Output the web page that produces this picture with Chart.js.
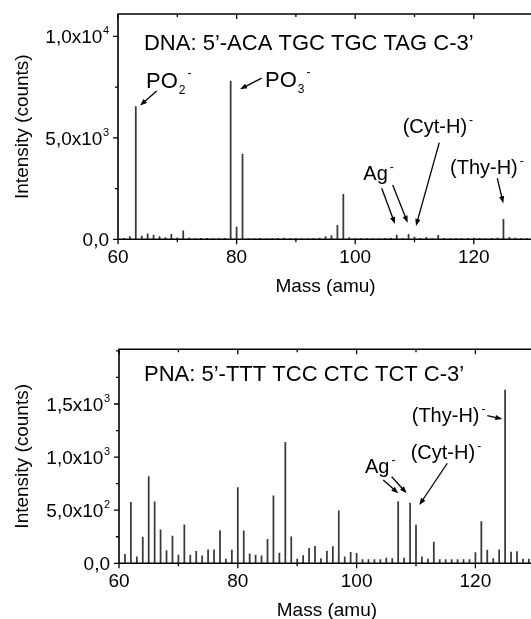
<!DOCTYPE html>
<html>
<head>
<meta charset="utf-8">
<title>DNA / PNA mass spectra</title>
<script src="https://cdn.jsdelivr.net/npm/chart.js@4.4.0/dist/chart.umd.min.js"></script>
<style>
  html, body { margin: 0; padding: 0; background: #fff; }
  body { width: 531px; height: 619px; overflow: hidden; position: relative; }
  canvas { position: absolute; left: 0; }
  #dnaChart { top: 0; }
  #pnaChart { top: 310px; }
</style>
</head>
<body>
<canvas id="dnaChart" width="560" height="310"></canvas>
<canvas id="pnaChart" width="560" height="324"></canvas>
<script>
const FONT = '"Liberation Sans", Arial, Helvetica, sans-serif';

// --- datos ---
const xTickValues = [60, 80, 100, 120];

const massValues = [
  61, 62, 63, 64, 65, 66, 67, 68, 69, 70,
  71, 72, 73, 74, 75, 76, 77, 78, 79, 80,
  81, 82, 83, 84, 85, 86, 87, 88, 89, 90,
  91, 92, 93, 94, 95, 96, 97, 98, 99, 100,
  101, 102, 103, 104, 105, 106, 107, 108, 109, 110,
  111, 112, 113, 114, 115, 116, 117, 118, 119, 120,
  121, 122, 123, 124, 125, 126, 127, 128, 129, 130
];

const dnaCounts = [
  50, 140, 6540, 160, 270, 210, 140, 80, 250, 70,
  420, 60, 50, 50, 50, 40, 50, 50, 7800, 600,
  4200, 40, 40, 50, 40, 40, 50, 60, 40, 50,
  40, 40, 50, 60, 130, 180, 690, 2220, 80, 50,
  40, 40, 50, 40, 50, 60, 210, 50, 245, 110,
  50, 100, 40, 200, 50, 40, 50, 40, 50, 60,
  50, 40, 50, 60, 990, 100, 60, 40, 40, 40
];

const pnaCounts = [
  85, 575, 62, 248, 817, 578, 314, 119, 257, 78,
  362, 78, 112, 70, 128, 126, 307, 40, 125, 713,
  305, 90, 78, 70, 226, 635, 97, 1140, 250, 40,
  72, 141, 160, 45, 115, 157, 493, 62, 104, 94,
  34, 34, 34, 34, 50, 45, 580, 50, 567, 361,
  60, 40, 200, 35, 35, 35, 35, 35, 35, 102,
  394, 125, 45, 128, 1630, 106, 110, 40, 40, 40
];

const dnaYTicks = [0, 5000, 10000];
const dnaYLabels = [['0,0', ''], ['5,0x10', '3'], ['1,0x10', '4']];
const pnaYTicks = [0, 500, 1000, 1500];
const pnaYLabels = [['0,0', ''], ['5,0x10', '2'], ['1,0x10', '3'], ['1,5x10', '3']];

// anotaciones (coordenadas en unidades de datos)
const dnaNotes = [
  { text: 'DNA: 5\u2019-ACA TGC TGC TAG C-3\u2019', at: [64.38, 9347], size: 22 },
  { text: 'PO', sub: '2', sup: '-', at: [64.72, 7444], size: 22, arrow: [[66.53, 7311], [63.71, 6586]] },
  { text: 'PO', sub: '3', sup: '-', at: [84.79, 7523], size: 22, arrow: [[84.23, 7937], [80.57, 7395]] },
  { text: '(Cyt-H)', sup: '-', at: [108.0, 5216], size: 20, arrow: [[114.18, 4762], [110.25, 656]] },
  { text: 'Ag', sup: '-', at: [101.37, 2923], size: 20, arrow: [[104.47, 2514], [106.71, 754]] },
  { arrow: [[106.32, 2677], [108.85, 818]] },
  { text: '(Thy-H)', sup: '-', at: [115.99, 3219], size: 20, arrow: [[123.96, 3007], [124.97, 1775]] }
];

const pnaNotes = [
  { text: 'PNA: 5\u2019-TTT TCC CTC TCT C-3\u2019', at: [64.21, 1721], size: 22 },
  { text: '(Thy-H)', sup: '-', at: [109.28, 1328], size: 20, arrow: [[122.0, 1390], [124.53, 1359]] },
  { text: '(Cyt-H)', sup: '-', at: [109.11, 982], size: 20, arrow: [[115.27, 942], [110.56, 549]] },
  { text: 'Ag', sup: '-', at: [101.41, 847], size: 20, arrow: [[104.49, 784], [107.02, 659]] },
  { arrow: [[105.91, 815], [108.43, 659]] }
];

// --- dibujo ---
function drawArrow(ctx, x1, y1, x2, y2) {
  const ang = Math.atan2(y2 - y1, x2 - x1);
  const L = 7, W = 2.6;
  const c = Math.cos(ang), s = Math.sin(ang);
  ctx.lineWidth = 1.3;
  ctx.beginPath();
  ctx.moveTo(x1, y1);
  ctx.lineTo(x2 - c * L * 0.6, y2 - s * L * 0.6);
  ctx.stroke();
  ctx.beginPath();
  ctx.moveTo(x2, y2);
  ctx.lineTo(x2 - L * c + W * s, y2 - L * s - W * c);
  ctx.lineTo(x2 - L * c - W * s, y2 - L * s + W * c);
  ctx.closePath();
  ctx.fill();
}

function drawNote(ctx, x, y, note) {
  if (note.text) {
    const px = x.getPixelForValue(note.at[0]);
    const py = y.getPixelForValue(note.at[1]);
    ctx.textAlign = 'left';
    ctx.textBaseline = 'alphabetic';
    ctx.font = note.size + 'px ' + FONT;
    ctx.fillText(note.text, px, py);
    let end = px + ctx.measureText(note.text).width;
    const cap = note.size * 0.716;
    ctx.font = '12px ' + FONT;
    if (note.sub) {
      ctx.fillText(note.sub, end + 1, py + 6);
      end += 1 + ctx.measureText(note.sub).width;
    }
    if (note.sup) {
      ctx.fillText(note.sup, end + 2, py - cap + 5);
    }
  }
  if (note.arrow) {
    const [[a0, b0], [a1, b1]] = note.arrow;
    drawArrow(ctx, x.getPixelForValue(a0), y.getPixelForValue(b0),
                   x.getPixelForValue(a1), y.getPixelForValue(b1));
  }
}

const framePlugin = {
  id: 'frame',
  afterDatasetsDraw(chart, args, opts) {
    const { ctx, chartArea: a, scales: { x, y } } = chart;
    ctx.save();
    ctx.strokeStyle = '#000';
    ctx.fillStyle = '#000';
    ctx.lineCap = 'butt';

    // marco
    ctx.lineWidth = 1.6;
    ctx.beginPath();
    ctx.moveTo(a.right + 40, a.top);
    ctx.lineTo(a.left, a.top);
    ctx.lineTo(a.left, a.bottom);
    ctx.lineTo(a.right + 40, a.bottom);
    ctx.stroke();

    // marcas eje x (abajo hacia fuera, arriba hacia dentro)
    ctx.lineWidth = 1.3;
    ctx.beginPath();
    for (let v = x.min; v <= x.max; v += 10) {
      const px = x.getPixelForValue(v);
      const len = xTickValues.includes(v) ? 5 : 3;
      ctx.moveTo(px, a.bottom);
      ctx.lineTo(px, a.bottom + len);
      ctx.moveTo(px, a.top);
      ctx.lineTo(px, a.top + len);
    }
    // marcas eje y
    const step = opts.yTicks[1] - opts.yTicks[0];
    for (let v = 0; v <= y.max; v += step / 2) {
      const py = y.getPixelForValue(v);
      const len = opts.yTicks.includes(v) ? 5 : 3;
      ctx.moveTo(a.left, py);
      ctx.lineTo(a.left - len, py);
    }
    ctx.stroke();

    // etiquetas eje y con exponente
    ctx.textBaseline = 'alphabetic';
    ctx.textAlign = 'left';
    opts.yTicks.forEach((v, i) => {
      const [main, exp] = opts.yLabels[i];
      const py = y.getPixelForValue(v);
      ctx.font = '19px ' + FONT;
      const wMain = ctx.measureText(main).width;
      ctx.font = '11px ' + FONT;
      const wExp = exp ? ctx.measureText(exp).width + 0.5 : 0;
      const left = a.left - 9 - wMain - wExp;
      ctx.font = '19px ' + FONT;
      ctx.fillText(main, left, py + 6.8);
      if (exp) {
        ctx.font = '11px ' + FONT;
        ctx.fillText(exp, left + wMain + 0.5, py - 2);
      }
    });

    // anotaciones
    ctx.fillStyle = '#000';
    opts.notes.forEach(n => drawNote(ctx, x, y, n));
    ctx.restore();
  }
};

function makeChart(id, counts, yMax, yTicks, yLabels, notes, pad, yWidth, xHeight) {
  return new Chart(document.getElementById(id), {
    type: 'bar',
    data: {
      datasets: [{
        data: massValues.map((m, i) => ({ x: m, y: counts[i] })),
        backgroundColor: '#3a3a3a',
        borderWidth: 0,
        barThickness: 1.1
      }]
    },
    options: {
      responsive: false,
      animation: false,
      events: [],
      layout: { padding: pad },
      plugins: {
        legend: { display: false },
        tooltip: { enabled: false },
        frame: { yTicks: yTicks, yLabels: yLabels, notes: notes }
      },
      scales: {
        x: {
          type: 'linear',
          min: 60,
          max: 130,
          offset: false,
          grid: { display: false, drawTicks: false, offset: false },
          border: { display: false },
          afterBuildTicks: s => { s.ticks = xTickValues.map(v => ({ value: v })); },
          afterFit: s => { s.height = xHeight; },
          ticks: { color: '#000', font: { family: FONT, size: 19 }, padding: 7, maxRotation: 0, autoSkip: false },
          title: { display: true, text: 'Mass (amu)', color: '#000', font: { family: FONT, size: 19 }, padding: { top: 0, bottom: 12 } }
        },
        y: {
          min: 0,
          max: yMax,
          grid: { display: false, drawTicks: false },
          border: { display: false },
          ticks: { display: false },
          afterFit: s => { s.width = yWidth; },
          title: { display: true, text: 'Intensity (counts)', color: '#000', font: { family: FONT, size: 19 }, padding: { top: 11, bottom: 0 } }
        }
      }
    },
    plugins: [framePlugin]
  });
}

makeChart('dnaChart', dnaCounts, 11100, dnaYTicks, dnaYLabels, dnaNotes,
  { left: 0, right: 26.9, top: 14, bottom: 0 }, 118, 70.7);
makeChart('pnaChart', pnaCounts, 2015, pnaYTicks, pnaYLabels, pnaNotes,
  { left: 0, right: 25.2, top: 39.3, bottom: 0 }, 119, 70.7);
</script>
</body>
</html>
